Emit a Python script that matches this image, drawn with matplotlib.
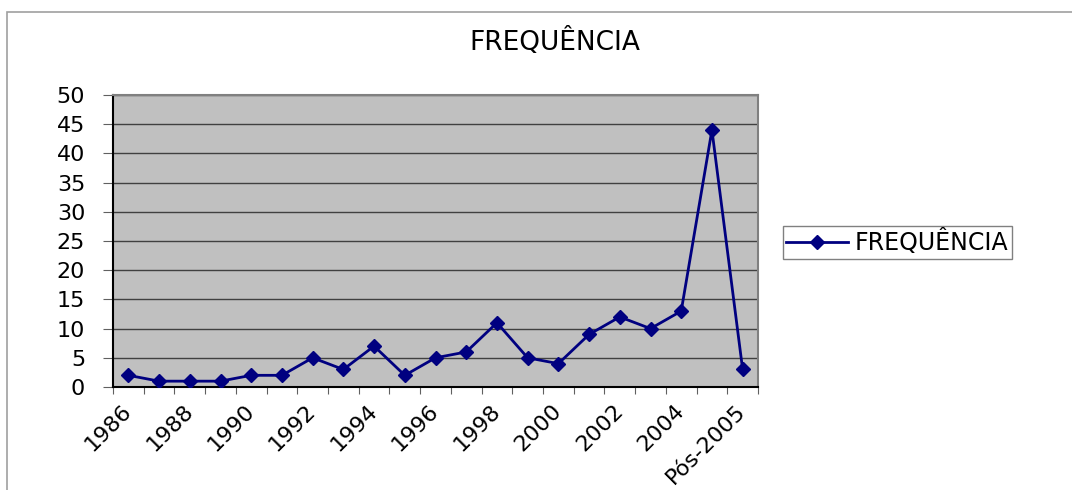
import numpy as np
import matplotlib.pyplot as plt
from matplotlib.patches import Rectangle

# Dados
categorias = [str(a) for a in range(1986, 2006)] + ["Pós-2005"]
frequencia = [2, 1, 1, 1, 2, 2, 5, 3, 7, 2, 5, 6, 11, 5, 4, 9, 12, 10, 13, 44, 3]
yticks = list(range(0, 55, 5))

plt.rcParams['font.family'] = ['DejaVu Sans']

fig = plt.figure(figsize=(10.72, 4.9), dpi=100)
W, H = 1072, 490

# moldura externa do gráfico (estilo Excel)
fig.patches.append(Rectangle((7 / W, -0.1), 1.2, 1 - 12 / H + 0.1,
                             transform=fig.transFigure, fill=False,
                             edgecolor='#a0a0a0', linewidth=1.2))

ax = fig.add_axes([113 / W, 1 - 387 / H, (758 - 113) / W, (387 - 95) / H])
ax.set_facecolor('#c0c0c0')

x = np.arange(len(categorias))
ax.plot(x, frequencia, color='#000080', linewidth=2, marker='D',
        markersize=7, label='FREQUÊNCIA', zorder=3)

ax.set_xlim(-0.5, len(categorias) - 0.5)
ax.set_ylim(0, 50)
ax.set_yticks(yticks)
ax.yaxis.grid(True, color='#404040', linewidth=1)
ax.set_axisbelow(True)

# ticks entre categorias, rótulos a cada duas
ax.set_xticks(np.arange(-0.5, len(categorias)), minor=False)
ax.set_xticklabels([])
ax.set_xticks(x[::2], minor=True)
ax.set_xticklabels(categorias[::2], minor=True, rotation=45, ha='right',
                   va='center', rotation_mode='anchor', fontsize=16)
ax.tick_params(axis='x', which='minor', length=0, pad=15)
ax.tick_params(axis='x', which='major', length=5, color='#606060')
ax.tick_params(axis='y', length=7, pad=13, labelsize=16, color='#606060')

for s in ['left', 'bottom']:
    ax.spines[s].set_color('black')
    ax.spines[s].set_linewidth(1.5)
for s in ['top', 'right']:
    ax.spines[s].set_color('#808080')
    ax.spines[s].set_linewidth(1.5)

fig.text(555 / W, 1 - 42 / H, 'FREQUÊNCIA', ha='center', va='center',
         fontsize=19)

leg = fig.legend(loc='upper left', bbox_to_anchor=(771 / W, 1 - 214 / H),
                 fontsize=17, frameon=True, fancybox=False, borderpad=0.15,
                 handlelength=2.6, handletextpad=0.3)
leg.get_frame().set_edgecolor('#606060')
leg.get_frame().set_linewidth(1)

fig.savefig('out.png', dpi=100)
